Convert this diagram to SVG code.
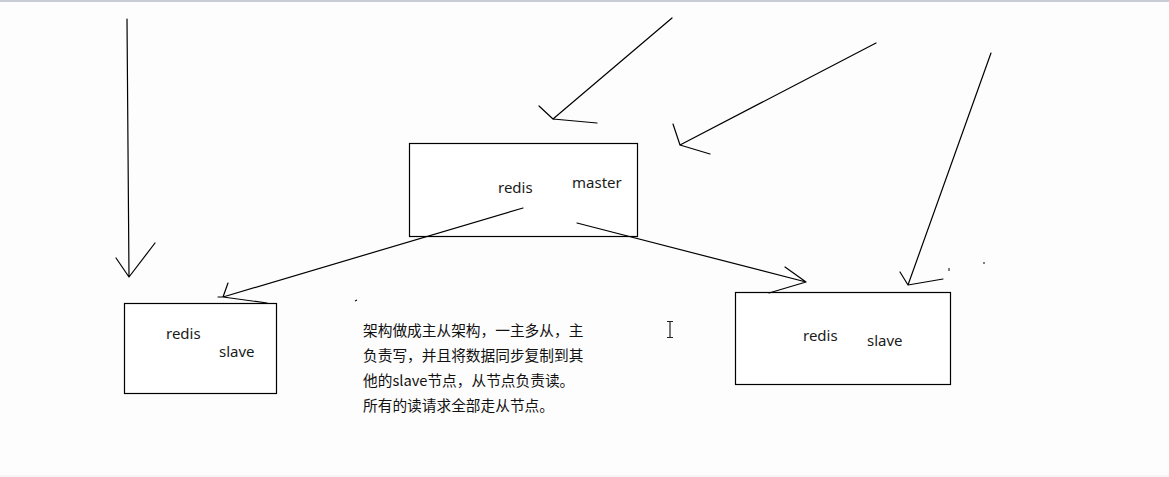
<svg xmlns="http://www.w3.org/2000/svg" width="1169" height="477" viewBox="0 0 1169 477">
<style>
.ln{fill:none;stroke:#000;stroke-width:1.2;stroke-linecap:round;stroke-linejoin:round}
.box{fill:#fff;stroke:#000;stroke-width:1.2}
.lbl{font-family:"Noto Sans","Noto Sans CJK SC",sans-serif;font-size:15px;fill:#1a1a1a}
.cn{font-family:"Noto Sans CJK SC","Noto Sans",sans-serif;font-size:14.7px;fill:#111}
</style>
<rect x="0" y="0" width="1169" height="477" fill="#fdfdfd"/>
<line x1="0" y1="1" x2="1169" y2="1" stroke="#c8ccd4" stroke-width="2"/>
<line x1="0" y1="476" x2="1169" y2="476" stroke="#eeeeee" stroke-width="1"/>

<g id="master">
<rect class="box" x="409.5" y="143.5" width="228" height="93"/>
<text class="lbl" x="498" y="193">redis</text>
<text class="lbl" x="572" y="188">master</text>
</g>
<g id="slave-left">
<rect class="box" x="124.5" y="303.5" width="152" height="90"/>
<text class="lbl" x="166" y="339">redis</text>
<text class="lbl" x="219" y="357">slave</text>
</g>
<g id="slave-right">
<rect class="box" x="735.5" y="292.5" width="215" height="92"/>
<text class="lbl" x="803" y="341">redis</text>
<text class="lbl" x="867" y="346">slave</text>
</g>

<g id="connectors">
<path class="ln" d="M127 19 L129 277 M116 258 L129 277 L155 243"/>
<path class="ln" d="M672 18 L553 119 M539 106 L553 119 L597 123"/>
<path class="ln" d="M876 43 L680 145 M673 124 L680 145 L710 154"/>
<path class="ln" d="M991 53 L908 285 M900 272 L908 285 L943 279"/>
<path class="ln" d="M523 208 L223 297 M228 283 L223 297 L267 303 M218 297 L223 297"/>
<path class="ln" d="M577 223 L806 282 M785 267 L806 282 L769 293"/>
</g>

<g id="marks">
<line x1="355" y1="301" x2="357" y2="300" stroke="#000" stroke-width="1.2"/>
<line x1="949" y1="268" x2="949" y2="271" stroke="#000" stroke-width="1"/>
<line x1="983" y1="263" x2="985" y2="263" stroke="#000" stroke-width="1"/>
<path d="M667 321.5 H673 M670 321.5 V337.5 M667 337.5 H673" fill="none" stroke="#222" stroke-width="1.2"/>
</g>

<g id="note">
<text class="cn" x="363" y="336">架构做成主从架构，一主多从，主</text>
<text class="cn" x="363" y="361">负责写，并且将数据同步复制到其</text>
<text class="cn" x="363" y="386">他的slave节点，从节点负责读。</text>
<text class="cn" x="363" y="411">所有的读请求全部走从节点。</text>
</g>
</svg>
